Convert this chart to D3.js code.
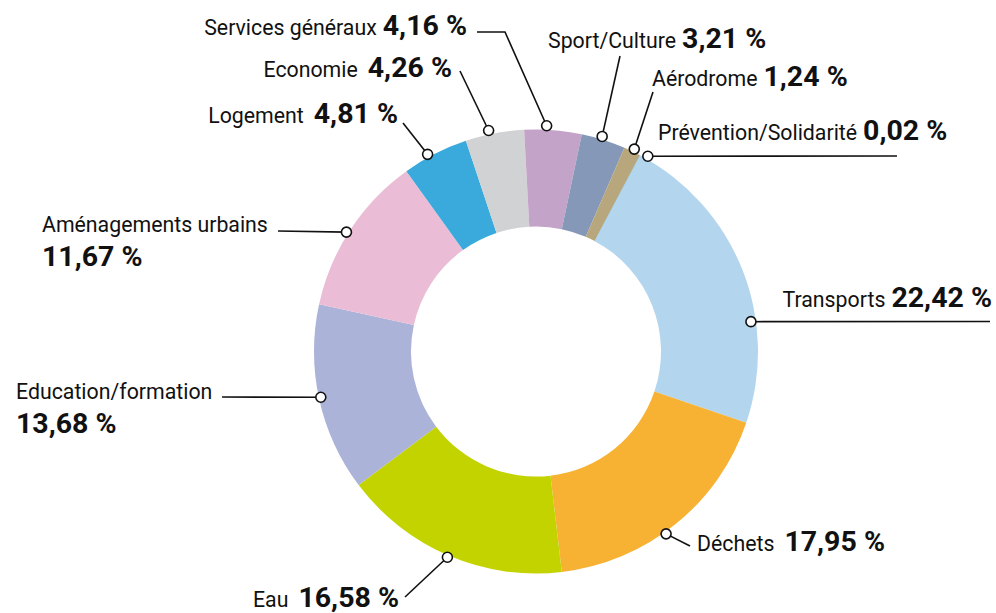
<!DOCTYPE html>
<html>
<head>
<meta charset="utf-8">
<script src="https://cdn.jsdelivr.net/npm/d3@7"></script>
<style>
  html, body { margin: 0; padding: 0; background: #fff; }
  svg { display: block; font-family: Roboto, "Liberation Sans", sans-serif; }
</style>
</head>
<body>
<div id="chart"></div>
<script>
// Data
const categories = ['Transports', 'Déchets', 'Eau', 'Education/formation', 'Aménagements urbains',
  'Logement', 'Economie', 'Services généraux', 'Sport/Culture', 'Aérodrome', 'Prévention/Solidarité'];
const values = [22.42, 17.95, 16.58, 13.68, 11.67, 4.81, 4.26, 4.16, 3.21, 1.24, 0.02];
const valueLabels = ['22,42 %', '17,95 %', '16,58 %', '13,68 %', '11,67 %', '4,81 %', '4,26 %',
  '4,16 %', '3,21 %', '1,24 %', '0,02 %'];
const colors = ['#b3d5ed', '#f7b233', '#c3d300', '#abb3d8', '#eabcd6', '#3aaadc', '#d0d2d3',
  '#c4a3c9', '#8598b8', '#b8a77c', '#5ab4e5'];

// Chart size
const width = 996;
const height = 613;
const cx = 536, cy = 351.5;
const outerR = 222, innerR = 125;
const startDeg = 28;

// Callout layout (marker angle in degrees, leader line points, text position)
const callouts = [
  { deg: 82.1, r: 217, line: [[990, 321.5]], tx: 992, ty: 307, anchor: 'end' },
  { deg: 144.5, r: 224, line: [[690, 546]], tx: 697, ty: 551, anchor: 'start', gap: 10 },
  { deg: 203.3, r: 224, line: [[405, 597]], tx: 399, ty: 607, anchor: 'end', gap: 10 },
  { deg: 258, r: 220, line: [[222, 397]], tx: 16, ty: 399, anchor: 'start', twoLine: true },
  { deg: 302.2, r: 224, line: [[278, 231]], tx: 42, ty: 232, anchor: 'start', twoLine: true },
  { deg: 331.2, r: 225, line: [[403, 123]], tx: 398, ty: 123, anchor: 'end', gap: 10 },
  { deg: 347.9, r: 226, line: [[460, 71]], tx: 452, ty: 77, anchor: 'end', gap: 10 },
  { deg: 2.7, r: 226, line: [[505, 32], [477, 32]], tx: 467, ty: 35, anchor: 'end' },
  { deg: 17.1, r: 225, line: [[620, 56]], tx: 548, ty: 48, anchor: 'start' },
  { deg: 25.9, r: 225, line: [[653, 92]], tx: 652, ty: 86, anchor: 'start' },
  { deg: 29.8, r: 225, line: [[897, 156]], tx: 658, ty: 140, anchor: 'start' }
];

const svg = d3.select('#chart')
  .append('svg')
  .attr('width', width)
  .attr('height', height);

const toRad = (d) => d * Math.PI / 180;

const pie = d3.pie()
  .sort(null)
  .value((d) => d)
  .startAngle(toRad(startDeg))
  .endAngle(toRad(startDeg + 360));

const arc = d3.arc()
  .innerRadius(innerR)
  .outerRadius(outerR);

const donut = svg.append('g')
  .attr('transform', `translate(${cx},${cy})`);

donut.selectAll('path')
  .data(pie(values))
  .enter()
  .append('path')
  .attr('d', arc)
  .attr('fill', (d, i) => colors[i]);

// Leader lines and markers
const calloutGroup = svg.append('g');

callouts.forEach((c) => {
  const p = d3.pointRadial(toRad(c.deg), c.r);
  const start = [cx + p[0], cy + p[1]];
  calloutGroup.append('path')
    .attr('d', d3.line()([start].concat(c.line)))
    .attr('fill', 'none')
    .attr('stroke', '#111')
    .attr('stroke-width', 1.6);
  c.marker = start;
});

callouts.forEach((c) => {
  calloutGroup.append('circle')
    .attr('cx', c.marker[0])
    .attr('cy', c.marker[1])
    .attr('r', 5)
    .attr('fill', '#fff')
    .attr('stroke', '#111')
    .attr('stroke-width', 1.6);
});

// Labels
const labels = svg.append('g').attr('fill', '#111');

callouts.forEach((c, i) => {
  const t = labels.append('text')
    .attr('x', c.tx)
    .attr('y', c.ty)
    .attr('text-anchor', c.anchor);
  t.append('tspan')
    .attr('font-size', 21.3)
    .text(categories[i]);
  const v = t.append('tspan')
    .attr('font-size', 28.5)
    .attr('font-weight', 700)
    .text(valueLabels[i]);
  if (c.twoLine) {
    v.attr('x', c.tx).attr('dy', 34);
  } else {
    v.attr('dx', c.gap || 6);
  }
});
</script>
</body>
</html>
